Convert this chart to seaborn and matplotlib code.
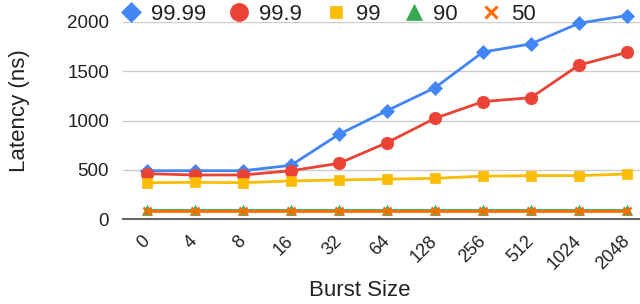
import matplotlib
matplotlib.use("Agg")
import matplotlib.pyplot as plt
from matplotlib.lines import Line2D
import matplotlib.transforms as mtransforms
import seaborn as sns
import pandas as pd

burst_sizes = ["0", "4", "8", "16", "32", "64", "128", "256", "512", "1024", "2048"]
p9999 = [490, 490, 490, 545, 860, 1100, 1333, 1695, 1778, 1988, 2065]
p999 = [460, 447, 447, 490, 565, 775, 1022, 1192, 1232, 1563, 1692]
p99 = [369, 372, 369, 386, 396, 405, 413, 435, 440, 440, 457]
p90 = [95, 95, 95, 95, 95, 95, 95, 95, 95, 95, 95]
p50 = [84, 84, 84, 84, 84, 84, 84, 84, 84, 84, 84]

series_names = ["99.99", "99.9", "99", "90", "50"]
series_vals = [p9999, p999, p99, p90, p50]
colors = ["#4285F4", "#EA4335", "#FBBC04", "#34A853", "#FF6D01"]
markers = ["D", "o", "s", "^", "x"]
msizes = [7, 9, 6.5, 6.5, 6]
leg_msizes = [10, 13, 9, 11, 8]

rows = []
for name, vals in zip(series_names, series_vals):
    for i, (b, v) in enumerate(zip(burst_sizes, vals)):
        rows.append({"pos": i, "Burst Size": b, "Latency": v, "Percentile": name})
df = pd.DataFrame(rows)

sns.set_theme(style="white")
plt.rcParams["font.family"] = ["Liberation Sans", "DejaVu Sans"]

fig = plt.figure(figsize=(6.4, 3.04), dpi=100)
ax = fig.add_axes([123 / 640, 1 - 219 / 304, 1 - 123 / 640, (219 - 22) / 304])

for name, col, mk, ms in zip(series_names, colors, markers, msizes):
    sub = df[df["Percentile"] == name]
    sns.lineplot(data=sub, x="pos", y="Latency", ax=ax, color=col, marker=mk,
                 markersize=ms, markeredgecolor=col,
                 markeredgewidth=1.8 if mk == "x" else 0.5,
                 linewidth=2.0, sort=False, legend=False, zorder=3)
for ln in ax.get_lines():
    ln.set_clip_on(False)

ax.set_xlim(-0.5, -0.5 + 517 / 48)
ax.set_ylim(0, 2000)
ax.set_yticks([0, 500, 1000, 1500, 2000])
ax.set_xticks(range(len(burst_sizes)))
ax.set_xticklabels(burst_sizes, rotation=45, ha="right", va="center",
                   rotation_mode="anchor", fontsize=13, color="#222222")
offset = mtransforms.ScaledTranslation(6 / 100, 0, fig.dpi_scale_trans)
for lbl in ax.get_xticklabels():
    lbl.set_transform(lbl.get_transform() + offset)
ax.tick_params(axis="y", labelsize=13.5, colors="#222222", length=0, pad=10)
ax.tick_params(axis="x", length=0, pad=14)
ax.grid(axis="y", color="#cccccc", linewidth=1.0, zorder=0)
ax.set_axisbelow(True)
for s in ["top", "right", "left"]:
    ax.spines[s].set_visible(False)
ax.spines["bottom"].set_color("#666666")
ax.spines["bottom"].set_linewidth(1.5)
ax.set_xlabel("Burst Size", fontsize=16, color="#222222", va="center")
ax.set_ylabel("Latency (ns)", fontsize=16, color="#222222", va="center")
ax.xaxis.set_label_coords((360 - 123) / 517, -(290 - 219) / 197)
ax.yaxis.set_label_coords(-(123 - 20) / 517, (219 - 111) / 197)

handles = [Line2D([], [], linestyle="none", marker=mk, color=col, markersize=ms,
                  markeredgewidth=2.2 if mk == "x" else 0.5, markeredgecolor=col)
           for col, mk, ms in zip(colors, markers, leg_msizes)]
fig.legend(handles, series_names, loc="center left", bbox_to_anchor=(111 / 640, 1 - 14 / 304),
           ncol=5, frameon=False, fontsize=16, handletextpad=0.4, columnspacing=1.0,
           borderaxespad=0, handlelength=1.0, labelcolor="#222222")

fig.savefig("out.png", dpi=100)
